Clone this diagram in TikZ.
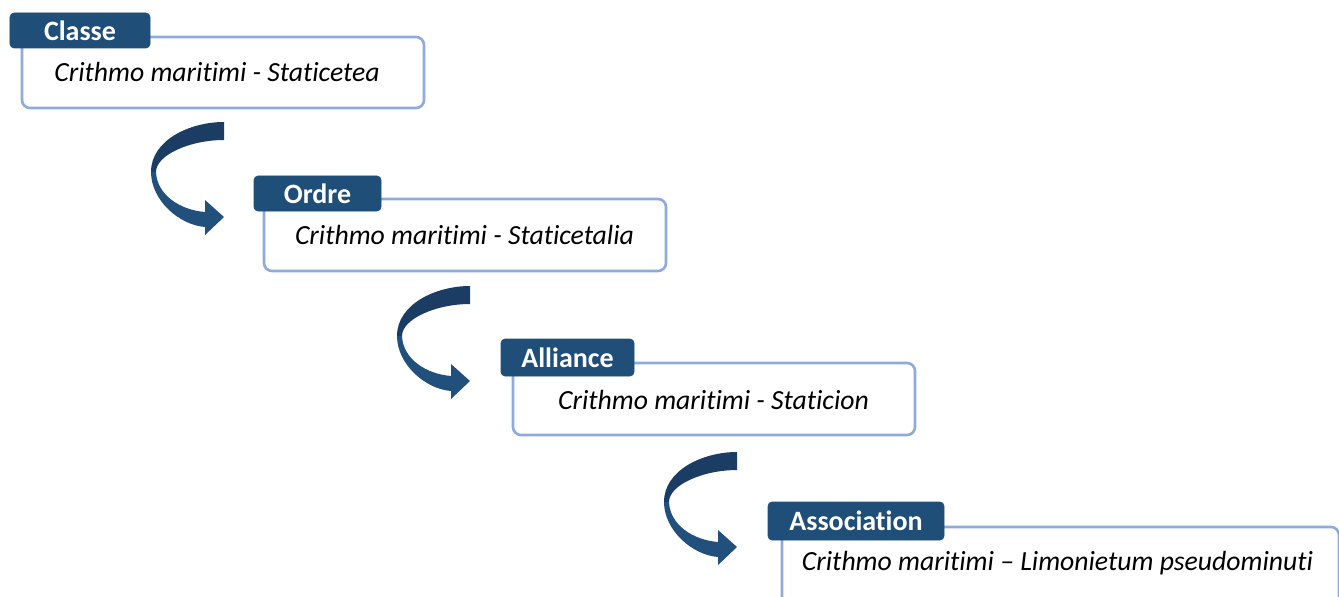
\documentclass[tikz,border=0pt]{standalone}
\usepackage{fontspec}
\setmainfont{Carlito}[Ligatures={NoCommon}]
\definecolor{tabblue}{HTML}{1F4E79}
\definecolor{boxline}{HTML}{8FAADC}
\definecolor{arrdark}{HTML}{1B3D63}
\definecolor{arrlight}{HTML}{22507D}
\tikzset{
  bodybox/.style={draw=boxline, line width=2.6bp, rounded corners=8bp, fill=white, inner sep=0pt},
  tabbox/.style={fill=tabblue, draw=tabblue, line width=0.6bp, rounded corners=4bp, text=white,
     font=\fontsize{28bp}{31bp}\selectfont\bfseries, inner sep=0pt},
  bodytext/.style={font=\fontsize{27.7bp}{32bp}\selectfont\itshape, text=black, inner sep=0pt},
  curvedarrow/.pic={
    \fill[arrdark] (0,0) .. controls (-34,0) and (-73,18) .. (-73,50) -- (-68,50)
        .. controls (-68,33) and (-34,18) .. (0,18) -- cycle;
    \fill[arrlight] (-73,50) .. controls (-73,78) and (-45,103) .. (-19,105) -- (-19,113)
        -- (0,95) -- (-19,78) -- (-19,90) .. controls (-44,88) and (-67,73) .. (-68,50) -- cycle;
  }
}
\begin{document}
\begin{tikzpicture}[x=1bp,y=-1bp]
\useasboundingbox (0,0) rectangle (1339,597);
\begin{scope}
\clip (0,0) rectangle (1339,597);
% boxes
\node[bodybox, minimum width=402bp, minimum height=71bp] (b1) at (223,72.5) {};
\node[bodybox, minimum width=402bp, minimum height=72bp] (b2) at (465,235) {};
\node[bodybox, minimum width=402bp, minimum height=72bp] (b3) at (714,399) {};
\node[bodybox, minimum width=557bp, minimum height=80bp] (b4) at (1060.5,567) {};
% body texts
\node[bodytext] (t1) at (217,72) {Crithmo maritimi - Staticetea};
\node[bodytext] (t2) at (464.5,235) {Crithmo maritimi - Staticetalia};
\node[bodytext] (t3) at (713.5,400) {Crithmo maritimi - Staticion};
\node[bodytext] (t4) at (1057.5,563) {Crithmo maritimi -- Limonietum pseudominuti};
% tabs
\node[tabbox, minimum width=140bp, minimum height=35bp] (h1) at (80,30.5) {Classe};
\node[tabbox, minimum width=127bp, minimum height=35bp] (h2) at (317.5,193.5) {Ordre};
\node[tabbox, minimum width=133bp, minimum height=37bp] (h3) at (567.5,357.5) {Alliance};
\node[tabbox, minimum width=176bp, minimum height=38bp] (h4) at (856,521) {Association};
% arrows
\coordinate (a1) at (224,122);
\coordinate (a2) at (470,286);
\coordinate (a3) at (737,452);
\pic at (a1) {curvedarrow};
\pic at (a2) {curvedarrow};
\pic at (a3) {curvedarrow};
\end{scope}
\end{tikzpicture}
\end{document}
